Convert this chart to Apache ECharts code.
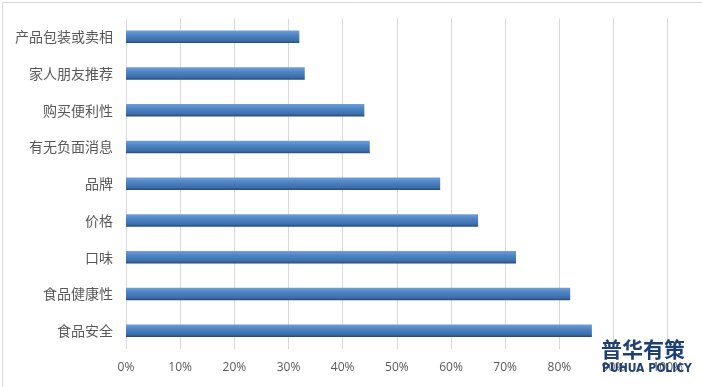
<!DOCTYPE html>
<html>
<head>
<meta charset="utf-8">
<script src="https://cdn.jsdelivr.net/npm/echarts@6/dist/echarts.min.js"></script>
<style>
html,body{margin:0;padding:0;background:#fff;}
#c{width:702px;height:387px;box-sizing:border-box;}
</style>
</head>
<body>
<div id="c"></div>
<script>
const categories = ['食品安全','食品健康性','口味','价格','品牌','有无负面消息','购买便利性','家人朋友推荐','产品包装或卖相'];
const values = [86, 82, 72, 65, 58, 45, 44, 33, 32];
const xTicks = [0, 10, 20, 30, 40, 50, 60, 70, 80, 90, 100];

const chart = echarts.init(document.getElementById('c'), null, {renderer:'canvas'});
chart.setOption({
  animation: false,
  backgroundColor: '#fff',
  grid: {left: 126, right: 34.3, top: 18.5, bottom: 38, containLabel: false},
  xAxis: {
    type: 'value', min: xTicks[0], max: xTicks[xTicks.length-1], interval: 10,
    axisLine: {show: false}, axisTick: {show: false},
    splitLine: {show: true, lineStyle: {color: '#d9d9d9', width: 1}},
    axisLabel: {formatter: '{value}%', color: '#595959', fontSize: 12, margin: 13, fontFamily: 'Open Sans, sans-serif'}
  },
  yAxis: {
    type: 'category', data: categories,
    axisLine: {show: false}, axisTick: {show: false},
    axisLabel: {color: '#595959', fontSize: 14, margin: 13, fontFamily: 'Noto Sans CJK SC'}
  },
  series: [{
    type: 'bar', data: values, barWidth: 12.5,
    itemStyle: {
      color: new echarts.graphic.LinearGradient(0, 0, 0, 1, [
        {offset: 0, color: '#6f9fd8'},
        {offset: 0.35, color: '#4f85c6'},
        {offset: 0.8, color: '#3d6ea8'},
        {offset: 1, color: '#24497a'}
      ])
    }
  }],
  graphic: [
    {type: 'rect', left: 0, top: 0, shape: {width: 701, height: 386}, style: {fill: 'none', stroke: '#d9d9d9', lineWidth: 1}, z: 100},
    {type: 'text', left: 601, top: 339, style: {text: '普华有策', fill: '#1d3f73', font: 'bold 21px "Noto Sans CJK SC"'}, z: 100},
    {type: 'text', left: 602, top: 363, style: {text: 'PUHUA POLICY', fill: '#1d3f73', font: 'bold 12px "Liberation Sans Narrow", "DejaVu Sans Condensed", sans-serif'}, z: 100}
  ]
});
</script>
</body>
</html>
